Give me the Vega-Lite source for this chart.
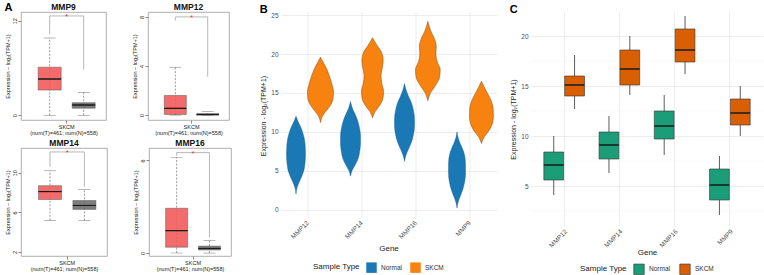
{
  "$schema": "https://vega.github.io/schema/vega-lite/v6.json",
  "background": "white",
  "padding": {"left": 4, "top": 2, "right": 0, "bottom": 0},
  "config": {
    "font": "Liberation Sans",
    "view": {"stroke": null},
    "axis": {"labelFont": "Liberation Sans", "titleFont": "Liberation Sans"},
    "legend": {"labelFont": "Liberation Sans", "titleFont": "Liberation Sans", "layout": {"bottom": {"anchor": "middle"}}},
    "title": {"font": "Liberation Sans"}
  },
  "datasets": {
    "gepia": [
      {"gene": "MMP9", "group": "T", "lo": 0, "q1": 3.2, "med": 4.6, "q3": 6.1, "hi": 9.8},
      {"gene": "MMP9", "group": "N", "lo": 0, "q1": 0.9, "med": 1.3, "q3": 1.6, "hi": 2.9},
      {"gene": "MMP12", "group": "T", "lo": 0, "q1": 0.05, "med": 0.55, "q3": 1.6, "hi": 3.9},
      {"gene": "MMP12", "group": "N", "lo": 0, "q1": 0, "med": 0.04, "q3": 0.12, "hi": 0.3},
      {"gene": "MMP14", "group": "T", "lo": 5.2, "q1": 7.3, "med": 8.1, "q3": 8.7, "hi": 10.2},
      {"gene": "MMP14", "group": "N", "lo": 5.2, "q1": 6.3, "med": 6.7, "q3": 7.2, "hi": 8.3},
      {"gene": "MMP16", "group": "T", "lo": 0, "q1": 0.38, "med": 1.45, "q3": 2.9, "hi": 6.2},
      {"gene": "MMP16", "group": "N", "lo": 0, "q1": 0.2, "med": 0.3, "q3": 0.45, "hi": 0.8}
    ],
    "brk": [
      {"gene": "MMP9", "group": "T", "v": 10.3, "o": 1},
      {"gene": "MMP9", "group": "T", "v": 12.6, "o": 2},
      {"gene": "MMP9", "group": "N", "v": 12.6, "o": 3},
      {"gene": "MMP9", "group": "N", "v": 5.8, "o": 4},
      {"gene": "MMP12", "group": "T", "v": 7.7, "o": 1},
      {"gene": "MMP12", "group": "T", "v": 8.0, "o": 2},
      {"gene": "MMP12", "group": "N", "v": 8.0, "o": 3},
      {"gene": "MMP12", "group": "N", "v": 3.1, "o": 4},
      {"gene": "MMP14", "group": "T", "v": 10.6, "o": 1},
      {"gene": "MMP14", "group": "T", "v": 12.1, "o": 2},
      {"gene": "MMP14", "group": "N", "v": 12.1, "o": 3},
      {"gene": "MMP14", "group": "N", "v": 8.6, "o": 4},
      {"gene": "MMP16", "group": "T", "v": 6.3, "o": 1},
      {"gene": "MMP16", "group": "T", "v": 6.5, "o": 2},
      {"gene": "MMP16", "group": "N", "v": 6.5, "o": 3},
      {"gene": "MMP16", "group": "N", "v": 1.0, "o": 4}
    ],
    "stars": [
      {"gene": "MMP9", "group": "M", "v": 12.7},
      {"gene": "MMP12", "group": "M", "v": 8.05},
      {"gene": "MMP14", "group": "M", "v": 12.15},
      {"gene": "MMP16", "group": "M", "v": 6.55}
    ],
    "minor": [{"m": 2.5}, {"m": 7.5}, {"m": 12.5}, {"m": 17.5}],
    "violin": [
      {"gene": "MMP12", "type": "Normal", "v": 2.0, "d": 0},
      {"gene": "MMP12", "type": "Normal", "v": 2.8, "d": 0.1},
      {"gene": "MMP12", "type": "Normal", "v": 3.5, "d": 0.3},
      {"gene": "MMP12", "type": "Normal", "v": 4.2, "d": 0.55},
      {"gene": "MMP12", "type": "Normal", "v": 5.0, "d": 0.78},
      {"gene": "MMP12", "type": "Normal", "v": 6.0, "d": 0.9},
      {"gene": "MMP12", "type": "Normal", "v": 7.0, "d": 0.95},
      {"gene": "MMP12", "type": "Normal", "v": 8.0, "d": 0.93},
      {"gene": "MMP12", "type": "Normal", "v": 9.0, "d": 0.85},
      {"gene": "MMP12", "type": "Normal", "v": 10.0, "d": 0.65},
      {"gene": "MMP12", "type": "Normal", "v": 10.8, "d": 0.4},
      {"gene": "MMP12", "type": "Normal", "v": 11.4, "d": 0.18},
      {"gene": "MMP12", "type": "Normal", "v": 12.0, "d": 0},
      {"gene": "MMP14", "type": "Normal", "v": 4.3, "d": 0},
      {"gene": "MMP14", "type": "Normal", "v": 5.0, "d": 0.15},
      {"gene": "MMP14", "type": "Normal", "v": 5.7, "d": 0.45},
      {"gene": "MMP14", "type": "Normal", "v": 6.5, "d": 0.75},
      {"gene": "MMP14", "type": "Normal", "v": 7.5, "d": 0.92},
      {"gene": "MMP14", "type": "Normal", "v": 8.5, "d": 1.0},
      {"gene": "MMP14", "type": "Normal", "v": 9.5, "d": 1.0},
      {"gene": "MMP14", "type": "Normal", "v": 10.5, "d": 0.9},
      {"gene": "MMP14", "type": "Normal", "v": 11.5, "d": 0.7},
      {"gene": "MMP14", "type": "Normal", "v": 12.3, "d": 0.45},
      {"gene": "MMP14", "type": "Normal", "v": 13.0, "d": 0.2},
      {"gene": "MMP14", "type": "Normal", "v": 13.9, "d": 0},
      {"gene": "MMP16", "type": "Normal", "v": 6.2, "d": 0},
      {"gene": "MMP16", "type": "Normal", "v": 7.0, "d": 0.15},
      {"gene": "MMP16", "type": "Normal", "v": 7.8, "d": 0.4},
      {"gene": "MMP16", "type": "Normal", "v": 8.7, "d": 0.7},
      {"gene": "MMP16", "type": "Normal", "v": 9.7, "d": 0.9},
      {"gene": "MMP16", "type": "Normal", "v": 10.7, "d": 1.0},
      {"gene": "MMP16", "type": "Normal", "v": 11.7, "d": 1.0},
      {"gene": "MMP16", "type": "Normal", "v": 12.7, "d": 0.9},
      {"gene": "MMP16", "type": "Normal", "v": 13.7, "d": 0.7},
      {"gene": "MMP16", "type": "Normal", "v": 14.5, "d": 0.42},
      {"gene": "MMP16", "type": "Normal", "v": 15.3, "d": 0.18},
      {"gene": "MMP16", "type": "Normal", "v": 16.2, "d": 0},
      {"gene": "MMP9", "type": "Normal", "v": 0.2, "d": 0},
      {"gene": "MMP9", "type": "Normal", "v": 1.0, "d": 0.12},
      {"gene": "MMP9", "type": "Normal", "v": 1.8, "d": 0.35},
      {"gene": "MMP9", "type": "Normal", "v": 2.7, "d": 0.6},
      {"gene": "MMP9", "type": "Normal", "v": 3.7, "d": 0.78},
      {"gene": "MMP9", "type": "Normal", "v": 4.7, "d": 0.85},
      {"gene": "MMP9", "type": "Normal", "v": 5.7, "d": 0.85},
      {"gene": "MMP9", "type": "Normal", "v": 6.7, "d": 0.8},
      {"gene": "MMP9", "type": "Normal", "v": 7.6, "d": 0.62},
      {"gene": "MMP9", "type": "Normal", "v": 8.4, "d": 0.35},
      {"gene": "MMP9", "type": "Normal", "v": 9.2, "d": 0.12},
      {"gene": "MMP9", "type": "Normal", "v": 10.0, "d": 0},
      {"gene": "MMP12", "type": "SKCM", "v": 11.2, "d": 0},
      {"gene": "MMP12", "type": "SKCM", "v": 12.0, "d": 0.15},
      {"gene": "MMP12", "type": "SKCM", "v": 12.7, "d": 0.45},
      {"gene": "MMP12", "type": "SKCM", "v": 13.5, "d": 0.8},
      {"gene": "MMP12", "type": "SKCM", "v": 14.3, "d": 0.97},
      {"gene": "MMP12", "type": "SKCM", "v": 15.2, "d": 1.0},
      {"gene": "MMP12", "type": "SKCM", "v": 16.0, "d": 0.9},
      {"gene": "MMP12", "type": "SKCM", "v": 17.0, "d": 0.72},
      {"gene": "MMP12", "type": "SKCM", "v": 18.0, "d": 0.5},
      {"gene": "MMP12", "type": "SKCM", "v": 18.8, "d": 0.25},
      {"gene": "MMP12", "type": "SKCM", "v": 19.6, "d": 0},
      {"gene": "MMP14", "type": "SKCM", "v": 11.8, "d": 0},
      {"gene": "MMP14", "type": "SKCM", "v": 12.6, "d": 0.2},
      {"gene": "MMP14", "type": "SKCM", "v": 13.4, "d": 0.55},
      {"gene": "MMP14", "type": "SKCM", "v": 14.3, "d": 0.8},
      {"gene": "MMP14", "type": "SKCM", "v": 15.2, "d": 0.85},
      {"gene": "MMP14", "type": "SKCM", "v": 16.2, "d": 0.72},
      {"gene": "MMP14", "type": "SKCM", "v": 17.2, "d": 0.65},
      {"gene": "MMP14", "type": "SKCM", "v": 18.2, "d": 0.75},
      {"gene": "MMP14", "type": "SKCM", "v": 19.2, "d": 0.82},
      {"gene": "MMP14", "type": "SKCM", "v": 20.2, "d": 0.7},
      {"gene": "MMP14", "type": "SKCM", "v": 21.1, "d": 0.35},
      {"gene": "MMP14", "type": "SKCM", "v": 22.1, "d": 0},
      {"gene": "MMP16", "type": "SKCM", "v": 14.0, "d": 0},
      {"gene": "MMP16", "type": "SKCM", "v": 15.0, "d": 0.2},
      {"gene": "MMP16", "type": "SKCM", "v": 16.0, "d": 0.6},
      {"gene": "MMP16", "type": "SKCM", "v": 17.0, "d": 0.9},
      {"gene": "MMP16", "type": "SKCM", "v": 18.0, "d": 0.95},
      {"gene": "MMP16", "type": "SKCM", "v": 19.0, "d": 0.72},
      {"gene": "MMP16", "type": "SKCM", "v": 20.0, "d": 0.62},
      {"gene": "MMP16", "type": "SKCM", "v": 21.0, "d": 0.65},
      {"gene": "MMP16", "type": "SKCM", "v": 22.0, "d": 0.5},
      {"gene": "MMP16", "type": "SKCM", "v": 23.0, "d": 0.22},
      {"gene": "MMP16", "type": "SKCM", "v": 24.2, "d": 0},
      {"gene": "MMP9", "type": "SKCM", "v": 8.5, "d": 0},
      {"gene": "MMP9", "type": "SKCM", "v": 9.3, "d": 0.2},
      {"gene": "MMP9", "type": "SKCM", "v": 10.2, "d": 0.6},
      {"gene": "MMP9", "type": "SKCM", "v": 11.1, "d": 0.85},
      {"gene": "MMP9", "type": "SKCM", "v": 12.0, "d": 0.92},
      {"gene": "MMP9", "type": "SKCM", "v": 13.0, "d": 0.9},
      {"gene": "MMP9", "type": "SKCM", "v": 14.0, "d": 0.75},
      {"gene": "MMP9", "type": "SKCM", "v": 15.0, "d": 0.45},
      {"gene": "MMP9", "type": "SKCM", "v": 15.8, "d": 0.2},
      {"gene": "MMP9", "type": "SKCM", "v": 16.5, "d": 0}
    ],
    "box": [
      {"gene": "MMP12", "type": "Normal", "lo": 4.1, "q1": 5.6, "med": 7.1, "q3": 8.4, "hi": 10.0},
      {"gene": "MMP12", "type": "SKCM", "lo": 12.7, "q1": 14.0, "med": 15.1, "q3": 16.0, "hi": 18.1},
      {"gene": "MMP14", "type": "Normal", "lo": 6.3, "q1": 7.7, "med": 9.1, "q3": 10.4, "hi": 12.0},
      {"gene": "MMP14", "type": "SKCM", "lo": 14.1, "q1": 15.1, "med": 16.7, "q3": 18.6, "hi": 20.0},
      {"gene": "MMP16", "type": "Normal", "lo": 8.1, "q1": 9.7, "med": 11.0, "q3": 12.5, "hi": 14.1},
      {"gene": "MMP16", "type": "SKCM", "lo": 16.2, "q1": 17.4, "med": 18.6, "q3": 20.7, "hi": 22.0},
      {"gene": "MMP9", "type": "Normal", "lo": 2.1, "q1": 3.6, "med": 5.1, "q3": 6.7, "hi": 8.0},
      {"gene": "MMP9", "type": "SKCM", "lo": 10.0, "q1": 11.1, "med": 12.3, "q3": 13.7, "hi": 15.0}
    ]
  },
  "spacing": 27,
  "align": "none",
  "resolve": {"scale": {"color": "independent"}, "legend": {"color": "independent"}},
  "hconcat": [
    {
      "title": {"text": "A", "anchor": "start", "frame": "bounds", "offset": -11, "fontSize": 11, "fontWeight": "bold", "color": "#000"},
      "spacing": 1,
      "vconcat": [
        {
          "spacing": 24,
          "hconcat": [
            {
              "width": 85, "height": 108,
              "view": {"stroke": "#9a9a9a", "strokeWidth": 0.8},
              "title": {"text": "MMP9", "fontSize": 8.5, "fontWeight": "bold", "offset": 1, "color": "#111"},
              "encoding": {
                "x": {"field": "group", "type": "nominal", "scale": {"domain": ["T", "M", "N"], "paddingInner": 0, "paddingOuter": 1.536, "align": 0.593},
                  "axis": {"values": ["M"], "labelExpr": "'SKCM'", "title": "(num(T)=461; num(N)=558)", "labelAngle": 0, "labelFontSize": 5.5, "titleFontSize": 5.5, "titleFontWeight": "normal", "tickSize": 3, "labelPadding": 1, "titlePadding": 1, "domain": false, "grid": false, "labelColor": "#222", "titleColor": "#222"}}
              },
              "layer": [
                {"data": {"name": "gepia"}, "transform": [{"filter": "datum.gene === 'MMP9'"}],
                 "mark": {"type": "rule", "color": "#555", "strokeWidth": 0.6, "strokeDash": [2, 1.5]},
                 "encoding": {
                   "y": {"field": "lo", "type": "quantitative", "scale": {"domain": [-0.6, 13.1], "nice": false, "zero": false},
                     "axis": {"title": "Expression – log₂(TPM+1)", "values": [0, 2, 4, 6, 8, 10, 12], "labelOverlap": false, "labelAngle": -90, "labelFontSize": 5.5, "tickSize": 3, "labelPadding": 1, "titleFontSize": 5.5, "titleFontWeight": "normal", "titlePadding": 2, "domain": false, "grid": false, "labelColor": "#222", "titleColor": "#222"}},
                   "y2": {"field": "hi"}}},
                {"data": {"name": "gepia"}, "transform": [{"filter": "datum.gene === 'MMP9'"}],
                 "mark": {"type": "tick", "color": "#555", "size": 12, "thickness": 0.6},
                 "encoding": {"y": {"field": "hi", "type": "quantitative"}}},
                {"data": {"name": "gepia"}, "transform": [{"filter": "datum.gene === 'MMP9'"}],
                 "mark": {"type": "tick", "color": "#555", "size": 12, "thickness": 0.6},
                 "encoding": {"y": {"field": "lo", "type": "quantitative"}}},
                {"data": {"name": "gepia"}, "transform": [{"filter": "datum.gene === 'MMP9'"}],
                 "mark": {"type": "bar", "width": 23, "stroke": "#444", "strokeWidth": 0.5, "opacity": 0.9},
                 "encoding": {"y": {"field": "q1", "type": "quantitative"}, "y2": {"field": "q3"},
                   "color": {"field": "group", "type": "nominal", "scale": {"domain": ["T", "N"], "range": ["#f25c5c", "#6f6f6f"]}, "legend": null}}},
                {"data": {"name": "gepia"}, "transform": [{"filter": "datum.gene === 'MMP9'"}],
                 "mark": {"type": "bar", "width": 23, "fill": "transparent", "stroke": "#1a1a1a", "strokeWidth": 1},
                 "encoding": {"y": {"field": "med", "type": "quantitative"}, "y2": {"field": "med"}}},
                {"data": {"name": "brk"}, "transform": [{"filter": "datum.gene === 'MMP9'"}],
                 "mark": {"type": "line", "color": "#888", "strokeWidth": 0.6},
                 "encoding": {"y": {"field": "v", "type": "quantitative"}, "order": {"field": "o", "type": "quantitative"}}},
                {"data": {"name": "stars"}, "transform": [{"filter": "datum.gene === 'MMP9'"}],
                 "mark": {"type": "text", "text": "*", "color": "#e0393e", "fontSize": 8, "dy": 2},
                 "encoding": {"y": {"field": "v", "type": "quantitative"}}}
              ]
            },
            {
              "width": 81, "height": 108,
              "view": {"stroke": "#9a9a9a", "strokeWidth": 0.8},
              "title": {"text": "MMP12", "fontSize": 8.5, "fontWeight": "bold", "offset": 1, "color": "#111"},
              "encoding": {
                "x": {"field": "group", "type": "nominal", "scale": {"domain": ["T", "M", "N"], "paddingInner": 0, "paddingOuter": 1.536, "align": 0.593},
                  "axis": {"values": ["M"], "labelExpr": "'SKCM'", "title": "(num(T)=461; num(N)=558)", "labelAngle": 0, "labelFontSize": 5.5, "titleFontSize": 5.5, "titleFontWeight": "normal", "tickSize": 3, "labelPadding": 1, "titlePadding": 1, "domain": false, "grid": false, "labelColor": "#222", "titleColor": "#222"}}
              },
              "layer": [
                {"data": {"name": "gepia"}, "transform": [{"filter": "datum.gene === 'MMP12'"}],
                 "mark": {"type": "rule", "color": "#555", "strokeWidth": 0.6, "strokeDash": [2, 1.5]},
                 "encoding": {
                   "y": {"field": "lo", "type": "quantitative", "scale": {"domain": [-0.4, 8.4], "nice": false, "zero": false},
                     "axis": {"title": "Expression – log₂(TPM+1)", "values": [0, 2, 4, 6, 8], "labelOverlap": false, "labelAngle": -90, "labelFontSize": 5.5, "tickSize": 3, "labelPadding": 1, "titleFontSize": 5.5, "titleFontWeight": "normal", "titlePadding": 2, "domain": false, "grid": false, "labelColor": "#222", "titleColor": "#222"}},
                   "y2": {"field": "hi"}}},
                {"data": {"name": "gepia"}, "transform": [{"filter": "datum.gene === 'MMP12'"}],
                 "mark": {"type": "tick", "color": "#555", "size": 12, "thickness": 0.6},
                 "encoding": {"y": {"field": "hi", "type": "quantitative"}}},
                {"data": {"name": "gepia"}, "transform": [{"filter": "datum.gene === 'MMP12'"}],
                 "mark": {"type": "tick", "color": "#555", "size": 12, "thickness": 0.6},
                 "encoding": {"y": {"field": "lo", "type": "quantitative"}}},
                {"data": {"name": "gepia"}, "transform": [{"filter": "datum.gene === 'MMP12'"}],
                 "mark": {"type": "bar", "width": 22, "stroke": "#444", "strokeWidth": 0.5, "opacity": 0.9},
                 "encoding": {"y": {"field": "q1", "type": "quantitative"}, "y2": {"field": "q3"},
                   "color": {"field": "group", "type": "nominal", "scale": {"domain": ["T", "N"], "range": ["#f25c5c", "#6f6f6f"]}, "legend": null}}},
                {"data": {"name": "gepia"}, "transform": [{"filter": "datum.gene === 'MMP12'"}],
                 "mark": {"type": "bar", "width": 22, "fill": "transparent", "stroke": "#1a1a1a", "strokeWidth": 1},
                 "encoding": {"y": {"field": "med", "type": "quantitative"}, "y2": {"field": "med"}}},
                {"data": {"name": "brk"}, "transform": [{"filter": "datum.gene === 'MMP12'"}],
                 "mark": {"type": "line", "color": "#888", "strokeWidth": 0.6},
                 "encoding": {"y": {"field": "v", "type": "quantitative"}, "order": {"field": "o", "type": "quantitative"}}},
                {"data": {"name": "stars"}, "transform": [{"filter": "datum.gene === 'MMP12'"}],
                 "mark": {"type": "text", "text": "*", "color": "#e0393e", "fontSize": 8, "dy": 2},
                 "encoding": {"y": {"field": "v", "type": "quantitative"}}}
              ]
            }
          ]
        },
        {
          "spacing": 24,
          "hconcat": [
            {
              "width": 86, "height": 108,
              "view": {"stroke": "#9a9a9a", "strokeWidth": 0.8},
              "title": {"text": "MMP14", "fontSize": 8.5, "fontWeight": "bold", "offset": 1, "color": "#111"},
              "encoding": {
                "x": {"field": "group", "type": "nominal", "scale": {"domain": ["T", "M", "N"], "paddingInner": 0, "paddingOuter": 1.536, "align": 0.593},
                  "axis": {"values": ["M"], "labelExpr": "'SKCM'", "title": "(num(T)=461; num(N)=558)", "labelAngle": 0, "labelFontSize": 5.5, "titleFontSize": 5.5, "titleFontWeight": "normal", "tickSize": 3, "labelPadding": 1, "titlePadding": 1, "domain": false, "grid": false, "labelColor": "#222", "titleColor": "#222"}}
              },
              "layer": [
                {"data": {"name": "gepia"}, "transform": [{"filter": "datum.gene === 'MMP14'"}],
                 "mark": {"type": "rule", "color": "#555", "strokeWidth": 0.6, "strokeDash": [2, 1.5]},
                 "encoding": {
                   "y": {"field": "lo", "type": "quantitative", "scale": {"domain": [1.6, 12.5], "nice": false, "zero": false},
                     "axis": {"title": "Expression – log₂(TPM+1)", "values": [2, 4, 6, 8, 10, 12], "labelOverlap": false, "labelAngle": -90, "labelFontSize": 5.5, "tickSize": 3, "labelPadding": 1, "titleFontSize": 5.5, "titleFontWeight": "normal", "titlePadding": 2, "domain": false, "grid": false, "labelColor": "#222", "titleColor": "#222"}},
                   "y2": {"field": "hi"}}},
                {"data": {"name": "gepia"}, "transform": [{"filter": "datum.gene === 'MMP14'"}],
                 "mark": {"type": "tick", "color": "#555", "size": 12, "thickness": 0.6},
                 "encoding": {"y": {"field": "hi", "type": "quantitative"}}},
                {"data": {"name": "gepia"}, "transform": [{"filter": "datum.gene === 'MMP14'"}],
                 "mark": {"type": "tick", "color": "#555", "size": 12, "thickness": 0.6},
                 "encoding": {"y": {"field": "lo", "type": "quantitative"}}},
                {"data": {"name": "gepia"}, "transform": [{"filter": "datum.gene === 'MMP14'"}],
                 "mark": {"type": "bar", "width": 23, "stroke": "#444", "strokeWidth": 0.5, "opacity": 0.9},
                 "encoding": {"y": {"field": "q1", "type": "quantitative"}, "y2": {"field": "q3"},
                   "color": {"field": "group", "type": "nominal", "scale": {"domain": ["T", "N"], "range": ["#f25c5c", "#6f6f6f"]}, "legend": null}}},
                {"data": {"name": "gepia"}, "transform": [{"filter": "datum.gene === 'MMP14'"}],
                 "mark": {"type": "bar", "width": 23, "fill": "transparent", "stroke": "#1a1a1a", "strokeWidth": 1},
                 "encoding": {"y": {"field": "med", "type": "quantitative"}, "y2": {"field": "med"}}},
                {"data": {"name": "brk"}, "transform": [{"filter": "datum.gene === 'MMP14'"}],
                 "mark": {"type": "line", "color": "#888", "strokeWidth": 0.6},
                 "encoding": {"y": {"field": "v", "type": "quantitative"}, "order": {"field": "o", "type": "quantitative"}}},
                {"data": {"name": "stars"}, "transform": [{"filter": "datum.gene === 'MMP14'"}],
                 "mark": {"type": "text", "text": "*", "color": "#e0393e", "fontSize": 8, "dy": 2},
                 "encoding": {"y": {"field": "v", "type": "quantitative"}}}
              ]
            },
            {
              "width": 82, "height": 108,
              "view": {"stroke": "#9a9a9a", "strokeWidth": 0.8},
              "title": {"text": "MMP16", "fontSize": 8.5, "fontWeight": "bold", "offset": 1, "color": "#111"},
              "encoding": {
                "x": {"field": "group", "type": "nominal", "scale": {"domain": ["T", "M", "N"], "paddingInner": 0, "paddingOuter": 1.536, "align": 0.593},
                  "axis": {"values": ["M"], "labelExpr": "'SKCM'", "title": "(num(T)=461; num(N)=558)", "labelAngle": 0, "labelFontSize": 5.5, "titleFontSize": 5.5, "titleFontWeight": "normal", "tickSize": 3, "labelPadding": 1, "titlePadding": 1, "domain": false, "grid": false, "labelColor": "#222", "titleColor": "#222"}}
              },
              "layer": [
                {"data": {"name": "gepia"}, "transform": [{"filter": "datum.gene === 'MMP16'"}],
                 "mark": {"type": "rule", "color": "#555", "strokeWidth": 0.6, "strokeDash": [2, 1.5]},
                 "encoding": {
                   "y": {"field": "lo", "type": "quantitative", "scale": {"domain": [-0.19, 6.8], "nice": false, "zero": false},
                     "axis": {"title": "Expression – log₂(TPM+1)", "values": [0, 1, 2, 3, 4, 5, 6], "labelOverlap": false, "labelAngle": -90, "labelFontSize": 5.5, "tickSize": 3, "labelPadding": 1, "titleFontSize": 5.5, "titleFontWeight": "normal", "titlePadding": 2, "domain": false, "grid": false, "labelColor": "#222", "titleColor": "#222"}},
                   "y2": {"field": "hi"}}},
                {"data": {"name": "gepia"}, "transform": [{"filter": "datum.gene === 'MMP16'"}],
                 "mark": {"type": "tick", "color": "#555", "size": 12, "thickness": 0.6},
                 "encoding": {"y": {"field": "hi", "type": "quantitative"}}},
                {"data": {"name": "gepia"}, "transform": [{"filter": "datum.gene === 'MMP16'"}],
                 "mark": {"type": "tick", "color": "#555", "size": 12, "thickness": 0.6},
                 "encoding": {"y": {"field": "lo", "type": "quantitative"}}},
                {"data": {"name": "gepia"}, "transform": [{"filter": "datum.gene === 'MMP16'"}],
                 "mark": {"type": "bar", "width": 22, "stroke": "#444", "strokeWidth": 0.5, "opacity": 0.9},
                 "encoding": {"y": {"field": "q1", "type": "quantitative"}, "y2": {"field": "q3"},
                   "color": {"field": "group", "type": "nominal", "scale": {"domain": ["T", "N"], "range": ["#f25c5c", "#6f6f6f"]}, "legend": null}}},
                {"data": {"name": "gepia"}, "transform": [{"filter": "datum.gene === 'MMP16'"}],
                 "mark": {"type": "bar", "width": 22, "fill": "transparent", "stroke": "#1a1a1a", "strokeWidth": 1},
                 "encoding": {"y": {"field": "med", "type": "quantitative"}, "y2": {"field": "med"}}},
                {"data": {"name": "brk"}, "transform": [{"filter": "datum.gene === 'MMP16'"}],
                 "mark": {"type": "line", "color": "#888", "strokeWidth": 0.6},
                 "encoding": {"y": {"field": "v", "type": "quantitative"}, "order": {"field": "o", "type": "quantitative"}}},
                {"data": {"name": "stars"}, "transform": [{"filter": "datum.gene === 'MMP16'"}],
                 "mark": {"type": "text", "text": "*", "color": "#e0393e", "fontSize": 8, "dy": 2},
                 "encoding": {"y": {"field": "v", "type": "quantitative"}}}
              ]
            }
          ]
        }
      ]
    },
    {
      "spacing": 12,
      "align": "none",
      "resolve": {"scale": {"color": "independent"}, "legend": {"color": "independent"}},
      "hconcat": [
        {
          "title": {"text": "B", "anchor": "start", "frame": "bounds", "offset": -3, "fontSize": 11, "fontWeight": "bold", "color": "#000"},
          "data": {"name": "violin"},
          "facet": {"column": {"field": "gene", "type": "nominal", "sort": ["MMP12", "MMP14", "MMP16", "MMP9"],
            "header": {"title": "Gene", "titleOrient": "bottom", "labelOrient": "bottom", "labelAngle": -45, "labelAlign": "right", "labelBaseline": "middle", "labelFontSize": 6.5, "labelColor": "#4d4d4d", "labelPadding": 2, "titleFontSize": 8, "titleFontWeight": "normal", "titleColor": "#1a1a1a", "titlePadding": -6, "labelFont": "Liberation Sans", "titleFont": "Liberation Sans"}}},
          "spacing": 0,
          "spec": {
            "width": 54, "height": 207,
            "layer": [
              {"transform": [{"aggregate": [{"op": "count", "as": "n"}], "groupby": ["gene"]}],
               "mark": {"type": "rule", "color": "#ebebeb", "strokeWidth": 0.9},
               "encoding": {"x": {"datum": 0, "type": "quantitative", "scale": {"domain": [-1, 1]}, "axis": null}}},
              {"transform": [{"filter": "datum.type === 'Normal'"}],
               "mark": {"type": "area", "orient": "horizontal", "interpolate": "monotone", "color": "#1a78b4", "stroke": "#10598a", "strokeWidth": 0.4},
               "encoding": {
                 "y": {"field": "v", "type": "quantitative", "scale": {"domain": [-1.2, 25.4], "nice": false, "zero": false},
                   "axis": {"title": "Expression - log₂(TPM+1)", "values": [0, 2.5, 5, 7.5, 10, 12.5, 15, 17.5, 20, 22.5, 25], "labelExpr": "datum.value % 5 === 0 ? datum.label : ''", "labelOverlap": false, "gridColor": "#ebebeb", "gridWidth": {"condition": {"test": "datum.value % 5 === 0", "value": 0.9}, "value": 0.5}, "domain": false, "ticks": false, "labelFontSize": 6.5, "labelColor": "#4d4d4d", "titleFontSize": 7, "titleFontWeight": "normal", "titleColor": "#1a1a1a", "labelPadding": 3, "titlePadding": 4}},
                 "x": {"field": "d", "type": "quantitative", "stack": "center", "scale": {"domain": [-0.275, 2.425], "nice": false, "zero": false}, "axis": null}}},
              {"transform": [{"filter": "datum.type === 'SKCM'"}],
               "mark": {"type": "area", "orient": "horizontal", "interpolate": "monotone", "color": "#f8820f", "stroke": "#8a4a10", "strokeWidth": 0.5},
               "encoding": {
                 "y": {"field": "v", "type": "quantitative"},
                 "x": {"field": "d", "type": "quantitative", "stack": "center", "scale": {"domain": [-1.019, 1.058], "nice": false, "zero": false}, "axis": null}}},
              {"transform": [{"aggregate": [{"op": "max", "field": "v", "as": "v"}], "groupby": ["gene", "type"]}],
               "mark": {"type": "square", "opacity": 0},
               "encoding": {
                 "y": {"field": "v", "type": "quantitative"},
                 "color": {"field": "type", "type": "nominal", "scale": {"domain": ["Normal", "SKCM"], "range": ["#1a78b4", "#f8820f"]},
                   "legend": {"title": "Sample Type", "orient": "bottom", "direction": "horizontal", "titleOrient": "left", "titleFontSize": 8, "titleFontWeight": "normal", "titleColor": "#1a1a1a", "labelFontSize": 6.5, "labelColor": "#333", "symbolType": "square", "symbolSize": 110, "symbolOpacity": 1, "symbolStrokeWidth": 0, "offset": 9, "columnPadding": 8, "titlePadding": 6}}}}
            ],
            "resolve": {"scale": {"x": "independent"}}
          }
        },
        {
          "title": {"text": "C", "anchor": "start", "frame": "bounds", "offset": -3, "fontSize": 11, "fontWeight": "bold", "color": "#000"},
          "width": 232, "height": 214,
          "encoding": {
            "x": {"field": "gene", "type": "nominal", "sort": ["MMP12", "MMP14", "MMP16", "MMP9"], "scale": {"domain": ["MMP12", "MMP14", "MMP16", "MMP9"], "paddingInner": 0, "paddingOuter": 0.1},
              "axis": {"title": "Gene", "labelAngle": -45, "bandPosition": 0.5, "ticks": false, "domain": false, "grid": true, "gridColor": "#ebebeb", "gridWidth": 0.9, "labelFontSize": 6.5, "labelColor": "#4d4d4d", "titleFontSize": 8, "titleFontWeight": "normal", "titleColor": "#1a1a1a", "labelPadding": 2, "titlePadding": 0}}
          },
          "layer": [
            {"data": {"name": "minor"},
             "mark": {"type": "rule", "color": "#f0f0f0", "strokeWidth": 0.5},
             "encoding": {"x": null, "y": {"field": "m", "type": "quantitative"}}},
            {"data": {"name": "box"},
             "mark": {"type": "rule", "color": "#333", "strokeWidth": 0.8},
             "encoding": {
               "xOffset": {"field": "type", "type": "nominal", "scale": {"domain": ["Normal", "SKCM"], "paddingInner": 0.05, "paddingOuter": 0.35}},
               "y": {"field": "lo", "type": "quantitative", "scale": {"domain": [1.0, 22.4], "nice": false, "zero": false},
                 "axis": {"title": "Expression - log₂(TPM+1)", "values": [5, 10, 15, 20], "format": "d", "gridColor": "#ebebeb", "gridWidth": 0.9, "domain": false, "ticks": false, "labelFontSize": 6.5, "labelColor": "#4d4d4d", "titleFontSize": 7, "titleFontWeight": "normal", "titleColor": "#1a1a1a", "labelPadding": 3, "titlePadding": 4}},
               "y2": {"field": "hi"}}},
            {"data": {"name": "box"},
             "mark": {"type": "bar", "stroke": "#333", "strokeWidth": 0.6},
             "encoding": {
               "xOffset": {"field": "type", "type": "nominal"},
               "y": {"field": "q1", "type": "quantitative"}, "y2": {"field": "q3"},
               "color": {"field": "type", "type": "nominal", "scale": {"domain": ["Normal", "SKCM"], "range": ["#1b9e77", "#d95f02"]},
                 "legend": {"title": "Sample Type", "orient": "bottom", "direction": "horizontal", "titleOrient": "left", "titleFontSize": 8, "titleFontWeight": "normal", "titleColor": "#1a1a1a", "labelFontSize": 6.5, "labelColor": "#333", "symbolType": "square", "symbolSize": 110, "symbolStrokeColor": "#333", "symbolStrokeWidth": 0.6, "offset": 6, "columnPadding": 8, "titlePadding": 6}}}},
            {"data": {"name": "box"},
             "mark": {"type": "bar", "fill": "transparent", "stroke": "#1a1a1a", "strokeWidth": 1.4},
             "encoding": {"xOffset": {"field": "type", "type": "nominal"}, "y": {"field": "med", "type": "quantitative"}, "y2": {"field": "med"}}}
          ]
        }
      ]
    }
  ]
}
